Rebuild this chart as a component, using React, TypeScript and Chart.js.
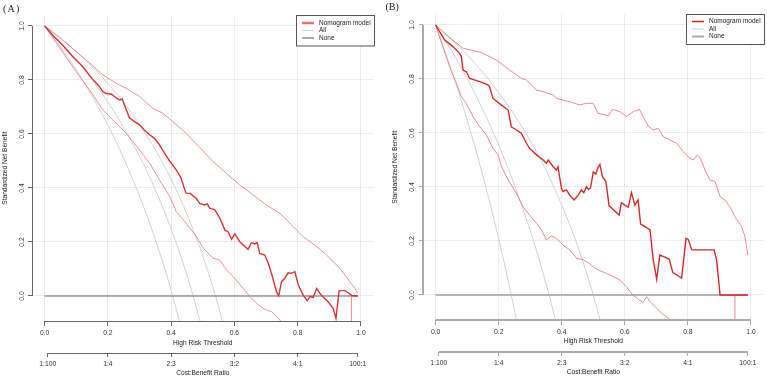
import React, { useEffect, useRef } from 'react';
import { Chart, registerables } from 'chart.js';

Chart.register(...registerables);

type Pt = [number, number];

// ---------- shared axis data ----------
const costTicks = [0.01, 0.2, 0.4, 0.6, 0.8, 0.99];
const costLabels = ['1:100', '1:4', '2:3', '3:2', '4:1', '100:1'];
const legendLabels = ['Nomogram model', 'All', 'None'];
const allT = [0, 0.05, 0.1, 0.15, 0.2, 0.25, 0.3, 0.35, 0.4, 0.45, 0.5, 0.55, 0.6];
const noneLine: Pt[] = [[0, 0], [0.99, 0]];

// ---------- panel A ----------
const aModel: Pt[] = [
  [0, 1], [0.03, 0.96], [0.06, 0.925], [0.09, 0.885], [0.12, 0.85], [0.15, 0.805], [0.17, 0.78],
  [0.184, 0.757], [0.195, 0.75], [0.21, 0.748], [0.225, 0.735], [0.237, 0.726], [0.245, 0.73],
  [0.268, 0.66], [0.285, 0.645], [0.3, 0.634], [0.315, 0.615], [0.332, 0.597], [0.347, 0.584],
  [0.36, 0.565], [0.379, 0.529], [0.395, 0.5], [0.416, 0.467], [0.43, 0.44], [0.447, 0.381],
  [0.46, 0.38], [0.479, 0.362], [0.49, 0.343], [0.506, 0.337], [0.514, 0.341], [0.522, 0.325],
  [0.538, 0.319], [0.554, 0.288], [0.57, 0.244], [0.58, 0.238], [0.591, 0.21], [0.601, 0.23],
  [0.617, 0.201], [0.633, 0.183], [0.643, 0.173], [0.654, 0.198], [0.664, 0.193], [0.672, 0.198],
  [0.68, 0.158], [0.696, 0.152], [0.707, 0.121], [0.72, 0.072], [0.733, 0.016], [0.74, 0.001],
  [0.749, 0.053], [0.759, 0.065], [0.77, 0.086], [0.78, 0.084], [0.791, 0.09], [0.802, 0.041],
  [0.817, 0.004], [0.83, -0.018], [0.839, -0.002], [0.849, -0.005], [0.86, 0.028], [0.87, 0.01],
  [0.881, -0.005], [0.896, -0.021], [0.912, -0.046], [0.921, -0.083], [0.931, 0.02], [0.949, 0.02],
  [0.96, 0.012], [0.97, 0.002], [0.99, 0]
];
const aUpper: Pt[] = [
  [0, 1], [0.05, 0.955], [0.1, 0.905], [0.15, 0.855], [0.184, 0.819], [0.226, 0.788], [0.258, 0.769],
  [0.3, 0.739], [0.342, 0.695], [0.374, 0.677], [0.405, 0.646], [0.447, 0.603], [0.489, 0.551],
  [0.533, 0.497], [0.575, 0.454], [0.617, 0.411], [0.659, 0.374], [0.701, 0.337], [0.744, 0.306],
  [0.786, 0.257], [0.817, 0.22], [0.86, 0.183], [0.891, 0.152], [0.933, 0.103], [0.965, 0.053],
  [0.981, 0.028], [0.99, 0.01]
];
const aLower: Pt[] = [
  [0, 1], [0.05, 0.915], [0.1, 0.83], [0.15, 0.75], [0.184, 0.689], [0.226, 0.64], [0.258, 0.603],
  [0.3, 0.541], [0.332, 0.492], [0.363, 0.43], [0.395, 0.369], [0.416, 0.313], [0.447, 0.27],
  [0.479, 0.221], [0.5, 0.18], [0.512, 0.164], [0.533, 0.14], [0.554, 0.133], [0.575, 0.096],
  [0.596, 0.072], [0.628, 0.028], [0.649, -0.002], [0.675, -0.033], [0.701, -0.052], [0.717, -0.058],
  [0.744, -0.089], [0.76, -0.12], [0.8, -0.2], [0.9, -0.35], [0.969, -0.45], [0.97, 0], [0.99, 0]
];
const aAllLow = [1, 0.923, 0.837, 0.741, 0.633, 0.51, 0.37, 0.209, 0.021, -0.202];
const aAllMid = [1, 0.941, 0.875, 0.801, 0.718, 0.624, 0.517, 0.393, 0.248, 0.077, -0.128];
const aAllHigh = [1, 0.955, 0.905, 0.85, 0.787, 0.716, 0.635, 0.541, 0.432, 0.303, 0.148, -0.041, -0.278];

// ---------- panel B ----------
const bModel: Pt[] = [
  [0, 1], [0.0286, 0.944], [0.055, 0.92], [0.076, 0.895], [0.0815, 0.883], [0.087, 0.833],
  [0.0974, 0.827], [0.108, 0.802], [0.14, 0.79], [0.166, 0.778], [0.171, 0.772], [0.182, 0.728],
  [0.208, 0.704], [0.23, 0.685], [0.24, 0.623], [0.256, 0.611], [0.272, 0.599], [0.288, 0.562],
  [0.298, 0.543], [0.32, 0.519], [0.341, 0.5], [0.351, 0.488], [0.357, 0.5], [0.373, 0.475],
  [0.383, 0.463], [0.388, 0.475], [0.399, 0.395], [0.404, 0.383], [0.415, 0.389], [0.425, 0.37],
  [0.439, 0.352], [0.452, 0.37], [0.462, 0.389], [0.47, 0.379], [0.478, 0.401], [0.484, 0.391],
  [0.491, 0.395], [0.5, 0.456], [0.508, 0.448], [0.514, 0.47], [0.521, 0.484], [0.529, 0.438],
  [0.54, 0.42], [0.55, 0.33], [0.565, 0.315], [0.582, 0.296], [0.589, 0.342], [0.6, 0.333],
  [0.611, 0.325], [0.621, 0.379], [0.632, 0.333], [0.642, 0.352], [0.65, 0.263], [0.664, 0.253],
  [0.68, 0.241], [0.69, 0.13], [0.701, 0.058], [0.711, 0.148], [0.727, 0.14], [0.741, 0.132],
  [0.752, 0.083], [0.766, 0.074], [0.78, 0.062], [0.794, 0.21], [0.801, 0.206], [0.812, 0.167],
  [0.883, 0.167], [0.891, 0.13], [0.902, 0], [0.99, 0]
];
const bUpper: Pt[] = [
  [0, 1], [0.04, 0.957], [0.087, 0.914], [0.12, 0.905], [0.145, 0.898], [0.193, 0.87], [0.235, 0.833],
  [0.272, 0.802], [0.288, 0.796], [0.32, 0.759], [0.341, 0.753], [0.373, 0.741], [0.383, 0.728],
  [0.404, 0.722], [0.425, 0.716], [0.457, 0.704], [0.478, 0.71], [0.5, 0.71], [0.515, 0.673],
  [0.537, 0.667], [0.547, 0.663], [0.561, 0.688], [0.584, 0.679], [0.605, 0.661], [0.627, 0.679],
  [0.646, 0.688], [0.658, 0.661], [0.674, 0.626], [0.69, 0.611], [0.706, 0.617], [0.722, 0.586],
  [0.743, 0.574], [0.764, 0.562], [0.785, 0.531], [0.806, 0.506], [0.817, 0.5], [0.83, 0.519],
  [0.84, 0.506], [0.854, 0.463], [0.87, 0.426], [0.886, 0.42], [0.902, 0.364], [0.917, 0.352],
  [0.933, 0.327], [0.949, 0.29], [0.97, 0.253], [0.981, 0.216], [0.99, 0.148]
];
const bLower: Pt[] = [
  [0, 1], [0.023, 0.92], [0.044, 0.846], [0.066, 0.784], [0.0815, 0.735], [0.097, 0.71], [0.119, 0.66],
  [0.14, 0.623], [0.161, 0.593], [0.182, 0.543], [0.198, 0.519], [0.209, 0.475], [0.23, 0.426],
  [0.256, 0.377], [0.277, 0.327], [0.298, 0.296], [0.32, 0.265], [0.336, 0.241], [0.351, 0.204],
  [0.367, 0.219], [0.383, 0.21], [0.404, 0.185], [0.425, 0.167], [0.447, 0.136], [0.468, 0.13],
  [0.484, 0.12], [0.505, 0.099], [0.521, 0.09], [0.542, 0.08], [0.563, 0.068], [0.584, 0.056],
  [0.605, 0.031], [0.621, 0.006], [0.632, -0.006], [0.646, -0.019], [0.658, -0.028], [0.669, -0.006],
  [0.68, -0.025], [0.701, -0.049], [0.717, -0.068], [0.738, -0.086], [0.749, -0.099], [0.758, -0.09],
  [0.765, -0.11], [0.85, -0.25], [0.948, -0.4], [0.949, 0], [0.99, 0]
];
const bAllLow = [1, 0.833, 0.648, 0.441, 0.208, -0.056, -0.357];
const bAllMid = [1, 0.906, 0.802, 0.686, 0.556, 0.407, 0.238, 0.043, -0.185];
const bAllHigh = [1, 0.947, 0.889, 0.824, 0.75, 0.667, 0.571, 0.462, 0.333, 0.182, 0, -0.222];

const FAMILY = '"Liberation Sans", Arial, Helvetica, sans-serif';
const GRID = 'rgba(0,0,0,0.07)';
const TEXT = '#333';
const ALL_COLOR = '#d2d2d2';

const toXY = (a: Pt[]) => a.map(([x, y]) => ({ x, y }));
const toGrey = (v: number[]) => v.map((y, i) => ({ x: allT[i], y }));

function makeAxesPlugin(color: string, width: number) {
  return {
    id: 'rAxes',
    afterDraw(chart: any) {
      const { ctx, scales } = chart;
      const { x, x2, y } = scales;
      const al = (v: number) => (width % 2 === 1 ? Math.round(v) + 0.5 : Math.round(v));
      ctx.save();
      ctx.strokeStyle = color;
      ctx.lineWidth = width;
      ctx.beginPath();
      ctx.moveTo(x.getPixelForValue(0), al(x.top));
      ctx.lineTo(x.getPixelForValue(1), al(x.top));
      ctx.moveTo(x2.getPixelForValue(costTicks[0]), al(x2.top));
      ctx.lineTo(x2.getPixelForValue(costTicks[costTicks.length - 1]), al(x2.top));
      ctx.moveTo(al(y.right), y.getPixelForValue(0));
      ctx.lineTo(al(y.right), y.getPixelForValue(1));
      ctx.stroke();
      ctx.restore();
    }
  };
}

function makeLegendPlugin(spec: any) {
  return {
    id: 'rLegend',
    afterDraw(chart: any) {
      const { ctx, chartArea } = chart;
      const left = Math.round(chartArea.right - spec.width);
      const top = Math.round(chartArea.top);
      ctx.save();
      ctx.fillStyle = '#fff';
      ctx.fillRect(left, top, spec.width, spec.height);
      ctx.strokeStyle = '#555';
      ctx.lineWidth = 1;
      ctx.strokeRect(left + 0.5, top + 0.5, spec.width, spec.height);
      ctx.font = `${spec.fontSize}px ${FAMILY}`;
      ctx.textBaseline = 'middle';
      ctx.textAlign = 'left';
      spec.items.forEach((it: any, i: number) => {
        const yy = top + spec.rowStart + i * spec.rowGap;
        ctx.strokeStyle = it.color;
        ctx.lineWidth = it.width;
        ctx.beginPath();
        ctx.moveTo(left + 6, yy);
        ctx.lineTo(left + 18, yy);
        ctx.stroke();
        ctx.fillStyle = '#222';
        ctx.fillText(legendLabels[i], left + 23, yy);
      });
      ctx.restore();
    }
  };
}

function makeConfig(p: any) {
  const tickFont = { family: FAMILY, size: 6.8 };
  const titleFont = { family: FAMILY, size: 6.6 };
  const datasets: any[] = [
    { data: toXY(p.model), borderColor: p.modelColor, borderWidth: p.modelWidth, order: 0 },
    { data: toXY(p.upper), borderColor: p.ciColor, borderWidth: 0.9, order: 1 },
    { data: toXY(p.lower), borderColor: p.ciColor, borderWidth: 0.9, order: 2 },
    { data: toXY(noneLine), borderColor: p.noneColor, borderWidth: p.noneWidth, order: 3 },
    ...p.all.map((v: number[], i: number) => ({
      data: toGrey(v), borderColor: ALL_COLOR, borderWidth: 1, cubicInterpolationMode: 'monotone', order: 4 + i
    }))
  ];
  return {
    type: 'line',
    data: { datasets },
    options: {
      animation: false,
      responsive: false,
      devicePixelRatio: 1,
      layout: { padding: { left: 0, right: p.padRight, top: p.padTop, bottom: 0 } },
      elements: { point: { radius: 0, hoverRadius: 0 }, line: { tension: 0, fill: false } },
      plugins: { legend: { display: false }, tooltip: { enabled: false } },
      scales: {
        x: {
          type: 'linear', position: 'bottom', min: -0.04, max: 1.04, weight: 0,
          afterFit: (s: any) => { s.height = p.xHeight; },
          border: { display: false },
          grid: { color: GRID, tickColor: p.axisColor, tickLength: 5, tickWidth: 1 },
          ticks: {
            stepSize: 0.2, includeBounds: false, autoSkip: false, maxRotation: 0, minRotation: 0,
            padding: p.xPad, color: TEXT, font: tickFont,
            callback: (v: any) => Number(v).toFixed(1)
          },
          title: {
            display: true, text: 'High Risk Threshold', color: '#222', font: titleFont,
            padding: { top: 0, bottom: p.xTitlePad }
          }
        },
        x2: {
          type: 'linear', position: 'bottom', min: -0.04, max: 1.04, weight: 10,
          afterBuildTicks: (s: any) => { s.ticks = costTicks.map((value) => ({ value })); },
          afterFit: (s: any) => { s.height = p.x2Height; },
          border: { display: false },
          grid: { drawOnChartArea: false, tickColor: p.axisColor, tickLength: 4, tickWidth: 1 },
          ticks: {
            autoSkip: false, maxRotation: 0, minRotation: 0, padding: p.xPad, color: TEXT, font: tickFont,
            callback: (_v: any, i: number) => costLabels[i]
          },
          title: {
            display: true, text: 'Cost:Benefit Ratio', color: '#222', font: titleFont,
            padding: { top: 0, bottom: p.x2TitlePad }
          }
        },
        y: {
          type: 'linear', position: 'left', min: -0.0926, max: 1.04,
          afterFit: (s: any) => { s.width = p.yWidth; },
          border: { display: false },
          grid: { color: GRID, tickColor: p.axisColor, tickLength: 4, tickWidth: 1 },
          ticks: {
            stepSize: 0.2, includeBounds: false, autoSkip: false, minRotation: 90, maxRotation: 90,
            crossAlign: 'center', padding: p.yPad, color: TEXT, font: tickFont,
            callback: (v: any) => Number(v).toFixed(1)
          },
          title: {
            display: true, text: 'Standardized Net Benefit', color: '#222', font: titleFont,
            padding: { top: p.yTitlePad, bottom: 0 }
          }
        }
      }
    },
    plugins: [makeAxesPlugin(p.axisColor, p.axisWidth), makeLegendPlugin(p.legend)]
  };
}

const panelA = {
  model: aModel, upper: aUpper, lower: aLower, all: [aAllLow, aAllMid, aAllHigh],
  modelColor: '#d83434', modelWidth: 1.4, ciColor: '#e98686',
  noneColor: '#666', noneWidth: 1.2, axisColor: '#666', axisWidth: 1,
  padTop: 15.2, padRight: 10.4, yWidth: 32, xHeight: 32, x2Height: 25,
  xPad: 3.2, xTitlePad: 6.3, x2TitlePad: 1.3, yPad: 1.5, yTitlePad: 1.3,
  legend: {
    width: 78, height: 30.5, rowStart: 8, rowGap: 7.5, fontSize: 6.5,
    items: [{ color: '#e57373', width: 2.5 }, { color: ALL_COLOR, width: 1 }, { color: '#555', width: 1 }]
  }
};

const panelB = {
  model: bModel, upper: bUpper, lower: bLower, all: [bAllLow, bAllMid, bAllHigh],
  modelColor: '#d42a2a', modelWidth: 1.4, ciColor: '#e87e7e',
  noneColor: '#b5b5b5', noneWidth: 2, axisColor: '#aaa', axisWidth: 2,
  padTop: 14.2, padRight: 3.4, yWidth: 39, xHeight: 32, x2Height: 26,
  xPad: 2.6, xTitlePad: 7.0, x2TitlePad: 2.3, yPad: 2.5, yTitlePad: 7.7,
  legend: {
    width: 78, height: 30, rowStart: 7.5, rowGap: 7.5, fontSize: 6.5,
    items: [{ color: '#d62020', width: 1.5 }, { color: ALL_COLOR, width: 1 }, { color: '#aaa', width: 2 }]
  }
};

function Panel({ spec, left, width }: { spec: any; left: number; width: number }) {
  const ref = useRef<HTMLCanvasElement | null>(null);
  useEffect(() => {
    if (!ref.current) return;
    const chart = new Chart(ref.current, makeConfig(spec) as any);
    return () => chart.destroy();
  }, [spec]);
  return (
    <canvas
      ref={ref}
      width={width}
      height={378}
      style={{ position: 'absolute', left, top: 0, width, height: 378, display: 'block' }}
    />
  );
}

const labelStyle: React.CSSProperties = {
  position: 'absolute',
  fontFamily: '"Liberation Serif", "Times New Roman", serif',
  fontSize: 10,
  lineHeight: '10px',
  color: '#222',
  whiteSpace: 'nowrap'
};

export default function App() {
  return (
    <div style={{ position: 'absolute', left: 0, top: 0, width: 767, height: 378, background: '#fff', overflow: 'hidden' }}>
      <Panel spec={panelA} left={0} width={384} />
      <Panel spec={panelB} left={384} width={383} />
      <div style={{ ...labelStyle, left: 3, top: 4, letterSpacing: 1.2 }}>(A)</div>
      <div style={{ ...labelStyle, left: 385.5, top: 2 }}>(B)</div>
    </div>
  );
}
